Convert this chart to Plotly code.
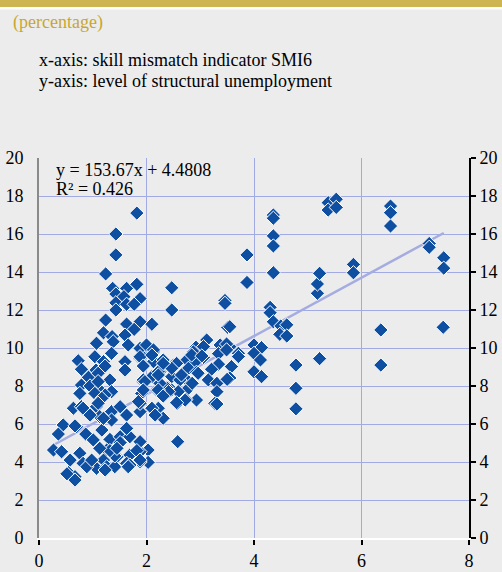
import plotly.graph_objects as go

# skill mismatch indicator SMI6 (x) vs structural unemployment (y)
smi6 = [
    1.82, 1.43, 1.43, 1.24, 1.37, 1.63, 1.82, 1.43, 1.58, 1.88, 1.43, 1.63, 1.77, 1.43, 2.47, 2.47, 2.10, 1.88,
    1.63, 1.77, 1.24, 1.20, 1.60, 1.36, 3.87, 3.87, 3.46, 3.46, 3.51, 3.12,
    4.36, 4.36, 4.36, 4.36, 4.36, 4.30, 4.30, 4.36, 4.50, 4.61, 4.48, 4.61, 4.00, 4.14, 4.00, 4.12, 4.00, 4.14,
    4.78, 4.78, 4.78, 5.22, 5.18, 5.18, 5.22, 5.38, 5.38, 5.53, 5.53, 5.85, 5.85, 6.36, 6.36, 6.54, 6.54, 6.54,
    7.26, 7.26, 7.53, 7.53, 7.52, 3.71, 3.71, 3.58, 3.55, 3.55, 3.55,
    3.37, 3.49, 2.92, 3.34, 3.49, 2.75, 2.90, 3.06, 3.34, 3.21, 2.78, 2.93, 2.50, 2.31, 2.13, 1.94, 2.07, 1.88,
    1.94, 1.88, 2.25, 2.47, 2.75, 2.62, 3.15, 3.31, 3.50, 1.94, 2.19, 2.47, 2.75, 2.93, 2.73, 3.31, 3.27, 2.58,
    2.22, 2.31, 1.88, 2.58, 2.03, 2.03, 1.88, 1.88, 3.06, 2.87, 2.38, 2.25, 2.10,
    2.84, 3.03, 2.56, 2.47, 2.13, 2.31, 2.22, 2.65, 2.85, 2.96, 2.59, 2.41, 2.72, 3.31, 2.56,
    1.38, 1.07, 1.66, 1.35, 1.04, 0.73, 0.79, 1.20, 1.10, 0.95, 1.60, 1.60, 2.00, 2.13, 1.88, 1.94, 0.79, 0.76,
    1.07, 1.32, 1.13, 1.35, 1.23, 1.94, 2.22, 2.31, 2.22, 2.31, 1.88, 1.91, 0.64, 0.79, 0.95, 1.07, 1.13, 1.35,
    1.51, 1.63, 1.35, 1.17, 0.70, 0.45, 0.36, 0.87, 1.01, 1.32, 1.51, 1.69, 1.88, 1.63, 0.27, 0.42, 0.58, 0.76,
    0.55, 0.67, 1.26, 1.45, 1.69, 1.82, 1.20, 0.95, 1.07, 1.26, 1.41, 1.63, 1.69, 0.82,
    0.67, 1.51, 0.89, 0.98, 1.23, 1.41, 1.32, 1.66, 1.13, 1.88, 1.45, 0.67, 0.52,
    2.10, 1.06, 1.23, 0.92, 1.10, 0.95, 1.10, 1.97, 1.04, 1.94, 1.17, 1.85, 2.10, 2.16, 0.82, 1.10, 0.95, 1.20,
]
unemployment = [
    17.10, 16.00, 14.90, 13.90, 13.14, 13.14, 13.35, 12.84, 12.70, 12.60, 12.38, 12.30, 12.30, 12.00, 13.17, 12.00, 11.25, 11.38,
    11.26, 10.98, 11.47, 10.80, 10.68, 10.60, 14.90, 13.45, 12.50, 12.35, 11.09, 10.42,
    17.00, 16.83, 15.90, 15.37, 13.96, 12.14, 11.86, 11.38, 11.16, 11.22, 10.72, 10.63, 10.16, 10.02, 9.72, 9.37, 8.75, 8.49,
    9.10, 7.88, 6.80, 9.44, 12.88, 13.37, 13.93, 17.65, 17.26, 17.83, 17.40, 14.40, 13.96, 10.95, 9.10, 17.47, 17.12, 16.42,
    15.50, 15.30, 14.75, 14.20, 11.09, 9.72, 9.55, 9.02, 8.42, 11.12, 10.07,
    10.16, 10.21, 10.04, 9.70, 9.90, 9.37, 9.24, 9.51, 9.15, 8.88, 8.93, 8.72, 9.10, 9.10, 9.28, 9.63, 9.90, 9.98,
    9.10, 9.46, 8.75, 8.49, 8.32, 8.32, 8.32, 8.14, 8.35, 8.23, 7.79, 7.79, 7.79, 7.26, 7.30, 7.70, 7.09, 7.09,
    6.83, 6.30, 6.65, 5.07, 4.63, 3.98, 4.54, 4.00, 10.07, 9.80, 7.90, 8.14, 8.49,
    9.63, 9.58, 9.19, 8.93, 9.80, 9.37, 8.75, 8.58, 8.14, 8.67, 7.70, 7.70, 7.26, 7.05, 7.12,
    10.33, 10.25, 10.16, 9.72, 9.54, 9.33, 8.88, 9.28, 8.75, 8.49, 9.28, 8.84, 10.16, 9.90, 9.54, 9.05, 8.05, 7.61,
    8.23, 8.32, 7.79, 7.70, 7.53, 8.32, 8.58, 9.19, 7.79, 7.47, 7.09, 7.61, 6.83, 6.91, 6.56, 6.91, 6.39, 6.65,
    6.91, 6.47, 6.21, 5.68, 5.86, 5.95, 5.47, 5.47, 5.16, 5.19, 5.33, 5.33, 5.07, 5.77, 4.63, 4.54, 4.10, 4.46,
    3.44, 3.23, 4.63, 4.28, 4.37, 4.60, 4.10, 3.93, 3.67, 3.75, 3.75, 3.93, 3.84, 3.93,
    5.90, 5.02, 3.75, 4.10, 3.58, 4.32, 4.60, 3.75, 4.72, 4.10, 4.72, 3.05, 3.38,
    9.63, 8.84, 9.05, 8.46, 8.67, 8.00, 8.23, 8.23, 7.61, 7.79, 7.35, 7.18, 6.83, 6.47, 6.83, 7.09, 6.47, 6.30,
]

# excel trendline (x as a fraction, not percent)
slope = 153.67
intercept = 4.4808
r2 = 0.426

y_ticks = list(range(0, 21, 2))
x_ticks = list(range(0, 9, 2))

serif = "Liberation Serif, Times New Roman, serif"
grid_col = "#A1AAE2"

trend_x = [min(smi6), max(smi6)]
trend_y = [slope * v / 100 + intercept for v in trend_x]

fig = go.Figure()
fig.add_trace(go.Scatter(x=trend_x, y=trend_y, mode="lines",
                         line=dict(color="#A4ACE0", width=2.5), hoverinfo="skip"))
fig.add_trace(go.Scatter(x=smi6, y=unemployment, mode="markers",
                         marker=dict(symbol="diamond", size=11, color="#0E4FA1",
                                     line=dict(color="white", width=1))))
# dummy trace so the right-hand axis gets drawn
fig.add_trace(go.Scatter(x=[0], y=[0], yaxis="y2", mode="markers",
                         marker=dict(opacity=0), hoverinfo="skip"))

fig.update_layout(
    width=502, height=572,
    margin=dict(l=39, r=33, t=158, b=34),
    paper_bgcolor="#ECECEC", plot_bgcolor="#ECECEC",
    showlegend=False,
    font=dict(family=serif, size=18, color="black"),
    xaxis=dict(range=[0, 8], tickvals=x_ticks, showgrid=True, gridcolor=grid_col, gridwidth=1,
               zeroline=False, showline=True, linecolor="white", linewidth=2, automargin=False,
               ticks="outside", ticklen=5, tickwidth=2, tickcolor="black"),
    yaxis=dict(range=[0, 20], tickvals=y_ticks, showgrid=True, gridcolor=grid_col, gridwidth=1,
               zeroline=False, showline=True, linecolor="#8A8A8A", linewidth=2, automargin=False,
               ticks="", ticklabelstandoff=10),
    yaxis2=dict(range=[0, 20], tickvals=y_ticks, overlaying="y", side="right", showgrid=False,
                zeroline=False, showline=True, linecolor="black", linewidth=2, automargin=False,
                ticks="outside", ticklen=5, tickwidth=1.5, tickcolor="black"),
)

fig.add_annotation(x=0.035, y=0.968, xref="paper", yref="paper", xanchor="left", yanchor="middle",
                   text=f"y = {slope}x + {intercept}", showarrow=False, font=dict(size=18))
fig.add_annotation(x=0.035, y=0.918, xref="paper", yref="paper", xanchor="left", yanchor="middle",
                   text=f"R² = {r2}", showarrow=False, font=dict(size=18))

# header texts, placed in paper units measured from the plot box (538px bottom, 380px tall)
fig.add_annotation(x=-0.065, y=(538 - 22) / 380, xref="paper", yref="paper", xanchor="left", yanchor="middle",
                   text="(percentage)", showarrow=False, font=dict(size=18, color="#C8A631"))
fig.add_annotation(x=-0.005, y=(538 - 60) / 380, xref="paper", yref="paper", xanchor="left", yanchor="middle",
                   text="x-axis: skill mismatch indicator SMI6", showarrow=False, font=dict(size=18))
fig.add_annotation(x=-0.005, y=(538 - 81) / 380, xref="paper", yref="paper", xanchor="left", yanchor="middle",
                   text="y-axis: level of structural unemployment", showarrow=False, font=dict(size=18))

# gold band + thin white strip at the top of the box
fig.add_shape(type="rect", xref="paper", yref="paper", x0=-0.1, x1=1.1, y0=(538 - 7) / 380, y1=1.42,
              fillcolor="#CDB552", line_width=0, layer="above")
fig.add_shape(type="rect", xref="paper", yref="paper", x0=-0.1, x1=1.1, y0=(538 - 9.5) / 380,
              y1=(538 - 7) / 380, fillcolor="white", line_width=0, layer="above")

# drop the default 8px body margin so the figure sits flush in the window
fig.write_html("out.html", config={"displayModeBar": False},
               post_script="document.body.style.margin='0';")
